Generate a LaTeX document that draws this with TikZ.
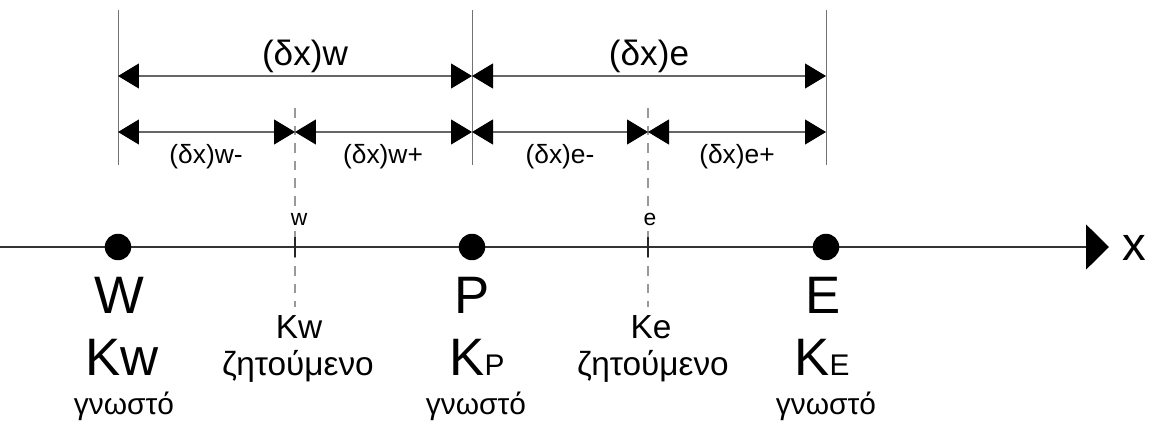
\documentclass[tikz,border=0pt]{standalone}
\usepackage{fontspec}
\setmainfont{Liberation Sans}
\usetikzlibrary{arrows.meta}

\tikzset{
  dot/.style = {circle, fill = black, inner sep = 0pt, minimum size = 0.53cm},
  axisline/.style = {draw = black!80, line width = 1pt, -{Triangle[length = 4.6mm, width = 9mm, color = black]}},
  extline/.style = {draw = black!55, line width = 0.5pt},
  dimline/.style = {draw = black!60, line width = 0.6pt,
    {Triangle[length = 4.2mm, width = 5mm, color = black]}-{Triangle[length = 4.2mm, width = 5mm, color = black]}},
  faceline/.style = {draw = black!40, line width = 0.6pt, dash pattern = on 5.5pt off 4.5pt},
  tickline/.style = {draw = black!85, line width = 1.1pt},
  txt/.style = {anchor = base, inner sep = 0pt},
  bigtxt/.style = {txt, font = \fontsize{30}{30}\selectfont},
  midtxt/.style = {txt, font = \fontsize{19}{19}\selectfont},
  gnwtxt/.style = {txt, font = \fontsize{17}{17}\selectfont},
  dimtxt/.style = {txt, font = \fontsize{20}{20}\selectfont},
  subdimtxt/.style = {txt, font = \fontsize{15}{15}\selectfont},
  ticktxt/.style = {anchor = base, inner sep = 1pt, fill = white, font = \fontsize{13}{13}\selectfont}
}
\newcommand{\smallK}[1]{{\fontsize{17}{17}\selectfont #1}}

\begin{document}
\begin{tikzpicture}[x = 0.02cm, y = -0.02cm]
  \useasboundingbox (0, 0) rectangle (1157, 426);

  % rows and heights
  \coordinate (top) at (0, 10);
  \coordinate (bot) at (0, 165);
  \coordinate (row1) at (0, 76);
  \coordinate (row2) at (0, 132);
  \coordinate (dtop) at (0, 108);
  \coordinate (dbot) at (0, 307);
  \coordinate (ttop) at (0, 237);
  \coordinate (tbot) at (0, 257);

  % axis
  \coordinate (o) at (0, 247);
  \coordinate (tip) at (1109, 247);
  \draw[axisline] (o) -- (tip);
  \node[anchor = base, inner sep = 0pt, font = \fontsize{27}{27}\selectfont] (xlab) at (1134, 260) {x};

  % faces
  \coordinate (w) at (295, 247);
  \coordinate (e) at (648, 247);
  \draw[faceline] (w |- dtop) -- (w |- dbot);
  \draw[faceline] (e |- dtop) -- (e |- dbot);
  \draw[tickline] (w |- ttop) -- (w |- tbot);
  \draw[tickline] (e |- ttop) -- (e |- tbot);
  \node[ticktxt] (wlab) at (299, 225) {w};
  \node[ticktxt] (elab) at (650, 225) {e};

  % nodes
  \node[dot] (W) at (118, 247) {};
  \node[dot] (P) at (472, 247) {};
  \node[dot] (E) at (826, 247) {};

  % extension lines
  \foreach \n in {W, P, E}
    \draw[extline] (\n |- top) -- (\n |- bot);

  % dimensions
  \draw[dimline] (W |- row1) -- (P |- row1);
  \draw[dimline] (P |- row1) -- (E |- row1);
  \draw[dimline] (W |- row2) -- (w |- row2);
  \draw[dimline] (w |- row2) -- (P |- row2);
  \draw[dimline] (P |- row2) -- (e |- row2);
  \draw[dimline] (e |- row2) -- (E |- row2);

  \node[dimtxt] (dxw) at (305, 65) {(δx)w};
  \node[dimtxt] (dxe) at (649, 65) {(δx)e};
  \node[subdimtxt] (dxwm) at (206, 163) {(δx)w-};
  \node[subdimtxt] (dxwp) at (383, 163) {(δx)w+};
  \node[subdimtxt] (dxem) at (560, 163) {(δx)e-};
  \node[subdimtxt] (dxep) at (737, 163) {(δx)e+};

  % labels under the nodes
  \node[bigtxt] (Wname) at (119, 313) {W};
  \node[bigtxt] (Pname) at (472, 313) {P};
  \node[bigtxt] (Ename) at (823, 313) {E};
  \node[bigtxt] (Kw) at (122, 375) {Kw};
  \node[bigtxt] (KP) at (477, 375) {K\smallK{P}};
  \node[bigtxt] (KE) at (822, 375) {K\smallK{E}};
  \node[gnwtxt] (Wgn) at (124, 414) {γνωστό};
  \node[gnwtxt] (Pgn) at (476, 414) {γνωστό};
  \node[gnwtxt] (Egn) at (826, 414) {γνωστό};

  % labels under the faces
  \node[midtxt] (Kwface) at (299, 338) {Kw};
  \node[midtxt] (Keface) at (651, 338) {Ke};
  \node[midtxt] (wzit) at (298, 375) {ζητούμενο};
  \node[midtxt] (ezit) at (653, 375) {ζητούμενο};
\end{tikzpicture}
\end{document}
